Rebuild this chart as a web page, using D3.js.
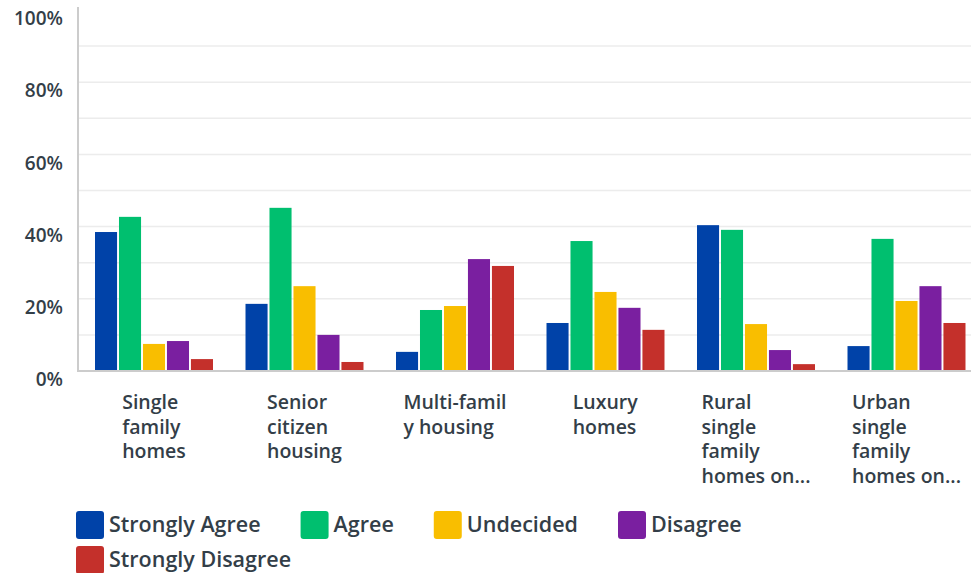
<!DOCTYPE html>
<html><head><meta charset="utf-8">
<script src="https://cdn.jsdelivr.net/npm/d3@7"></script>
<style>
html,body{margin:0;padding:0;background:#fff;overflow:hidden;}
svg{display:block;}
text{font-family:"Open Sans",sans-serif;font-weight:600;fill:#333e48;}
</style></head>
<body>
<svg id="chart" width="971" height="573"></svg>
<script>
const categories = [
  ["Single","family","homes"],
  ["Senior","citizen","housing"],
  ["Multi-famil","y housing"],
  ["Luxury","homes"],
  ["Rural","single","family","homes on..."],
  ["Urban","single","family","homes on..."]
];
const seriesNames = ["Strongly Agree","Agree","Undecided","Disagree","Strongly Disagree"];
const seriesColors = ["#0042a8","#00bf6f","#f9be00","#7a1fa0","#c4302b"];
const stronglyAgree    = [0.385, 0.186, 0.053, 0.133, 0.404, 0.069];
const agree            = [0.427, 0.452, 0.169, 0.360, 0.391, 0.366];
const undecided        = [0.075, 0.235, 0.180, 0.219, 0.130, 0.194];
const disagree         = [0.083, 0.100, 0.310, 0.175, 0.058, 0.235];
const stronglyDisagree = [0.033, 0.025, 0.291, 0.114, 0.019, 0.133];
const seriesValues = [stronglyAgree, agree, undecided, disagree, stronglyDisagree];
const yTicks = [0, 0.2, 0.4, 0.6, 0.8, 1.0];
const gridTicks = [0.1,0.2,0.3,0.4,0.5,0.6,0.7,0.8,0.9];

const svg = d3.select("#chart");
const x0 = d3.scaleBand().domain(d3.range(categories.length)).range([78.75, 981.75]).paddingInner(0.216).paddingOuter(0.108);
const x1 = d3.scaleBand().domain(d3.range(seriesNames.length)).range([0, x0.bandwidth()]).paddingInner(0.08);
const y = d3.scaleLinear().domain([0,1]).range([371, 10]);

// gridlines
svg.append("g").selectAll("line").data(gridTicks).join("line")
  .attr("x1",78).attr("x2",971).attr("y1",d=>y(d)).attr("y2",d=>y(d))
  .attr("stroke","#ececec").attr("stroke-width",1.5);

// y axis labels
const yAxis = d3.axisLeft(y).tickValues(yTicks).tickFormat(d3.format(".0%")).tickSize(0).tickPadding(0);
const ga = svg.append("g").attr("transform","translate(63,0)").call(yAxis);
ga.select(".domain").remove();
ga.selectAll("text").attr("dy","0.35em").attr("y",8).style("font-size","19px").style("font-family","'Open Sans',sans-serif").style("font-weight","600").attr("fill","#333e48");

// bars
const groups = svg.append("g").selectAll("g").data(categories.map((c,i)=>i)).join("g")
  .attr("transform", i=>`translate(${x0(i)},0)`);
groups.selectAll("rect").data(i=>seriesValues.map((s,j)=>({j, v:s[i]}))).join("rect")
  .attr("x", d=>x1(d.j)).attr("width", x1.bandwidth())
  .attr("y", d=>y(d.v)).attr("height", d=>y(0)-y(d.v))
  .attr("fill", d=>seriesColors[d.j]);

// axes lines
svg.append("line").attr("x1",78).attr("x2",78).attr("y1",7).attr("y2",372).attr("stroke","#cccccc").attr("stroke-width",2);
svg.append("line").attr("x1",77).attr("x2",971).attr("y1",371).attr("y2",371).attr("stroke","#cccccc").attr("stroke-width",2);

// category labels
categories.forEach((lines,i)=>{
  const g = svg.append("g");
  const t = g.append("text").style("font-size","19.5px");
  lines.forEach((ln,k)=>{
    t.append("tspan").attr("x",0).attr("y",409 + k*24.7).text(ln);
  });
  const w = t.node().getBBox().width;
  const cx = x0(i) + x0.bandwidth()/2;
  g.attr("transform",`translate(${cx - w/2},0)`);
});

// legend
const lg = svg.append("g");
let lx = 76, ly = 511;
seriesNames.forEach((name,j)=>{
  const it = lg.append("g");
  it.append("rect").attr("width",28).attr("height",28).attr("rx",3).attr("fill",seriesColors[j]);
  const tx = it.append("text").attr("x",33).attr("y",13).attr("dy","0.35em").style("font-size","21.5px").text(name);
  const w = 33 + tx.node().getComputedTextLength();
  if (lx + w > 971) { lx = 76; ly += 35; }
  it.attr("transform",`translate(${lx},${ly})`);
  lx += w + 40;
});
</script>
</body></html>
